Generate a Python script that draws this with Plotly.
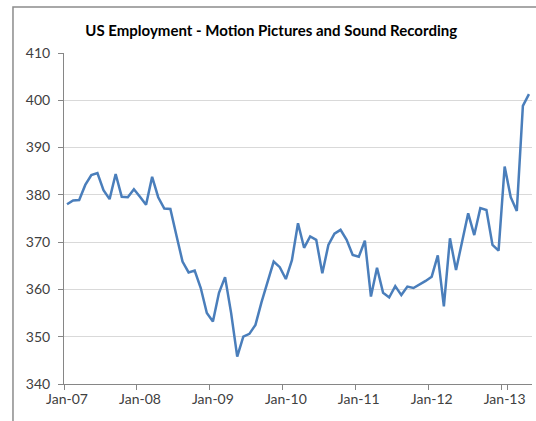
import plotly.graph_objects as go
import pandas as pd

# Monthly US employment, motion pictures & sound recording (thousands), Jan-07 .. May-13
months = pd.date_range("2007-01-01", periods=77, freq="MS").strftime("%b-%y").tolist()
employment = [
    378.0, 378.8, 378.9, 382.1, 384.2, 384.6, 381.0, 379.1, 384.4, 379.6, 379.5, 381.2,
    379.6, 377.9, 383.8, 379.5, 377.1, 377.0, 371.4, 365.9, 363.6, 364.0, 360.3, 355.0,
    353.2, 359.3, 362.6, 355.0, 345.8, 350.0, 350.6, 352.5, 357.3, 361.8, 365.9, 364.7,
    362.2, 366.2, 374.0, 368.8, 371.2, 370.5, 363.4, 369.4, 371.8, 372.6, 370.5, 367.3,
    366.9, 370.3, 358.5, 364.6, 359.3, 358.3, 360.7, 358.8, 360.6, 360.3, 361.0, 361.8,
    362.7, 367.2, 356.4, 370.8, 364.1, 370.0, 376.1, 371.5, 377.2, 376.8, 369.4, 368.2,
    386.0, 379.5, 376.6, 398.8, 401.3,
]
x_tick_labels = months[::12]
y_min, y_max, y_step = 340, 410, 10

title_text = "US Employment - Motion Pictures and Sound Recording"

fig = go.Figure(
    go.Scatter(
        x=months,
        y=employment,
        mode="lines",
        line=dict(color="#4A7EBB", width=2.5),
        hoverinfo="x+y",
    )
)

axis_font = dict(family="Lato, Open Sans, sans-serif", size=14, color="#404040")

fig.update_layout(
    width=536,
    height=421,
    margin=dict(l=64, r=4, t=53, b=37, autoexpand=False),
    paper_bgcolor="white",
    plot_bgcolor="white",
    showlegend=False,
    title=dict(
        text="<b>" + title_text + "</b>",
        xref="container", yref="container",
        x=0.506, y=0.926, xanchor="center", yanchor="middle",
        font=dict(family="Lato, Open Sans, sans-serif", size=15, color="#000000"),
    ),
    xaxis=dict(
        type="category",
        categoryorder="array",
        categoryarray=months,
        range=[-0.5, len(months) - 0.5],
        tickmode="array",
        tickvals=x_tick_labels,
        ticktext=x_tick_labels,
        tickson="boundaries",
        tickangle=0,
        ticks="outside",
        ticklen=5,
        tickcolor="#868686",
        showgrid=False,
        showline=True,
        linecolor="#868686",
        linewidth=1,
        tickfont=axis_font,
        ticklabelstandoff=2,
    ),
    yaxis=dict(
        range=[y_min, y_max],
        tick0=y_min,
        dtick=y_step,
        showgrid=True,
        gridcolor="#D9D9D9",
        gridwidth=1,
        zeroline=False,
        showline=True,
        linecolor="#868686",
        linewidth=1,
        ticks="outside",
        ticklen=5,
        tickcolor="#868686",
        tickfont=axis_font,
        ticklabelstandoff=5,
    ),
    shapes=[
        dict(
            type="rect", xref="paper", yref="paper",
            x0=-0.109, x1=1.2, y0=-0.3, y1=1.139,
            line=dict(color="#8C8C8C", width=1.5),
            fillcolor="rgba(0,0,0,0)",
            layer="below",
        )
    ],
)

fig.write_html("out.html")
